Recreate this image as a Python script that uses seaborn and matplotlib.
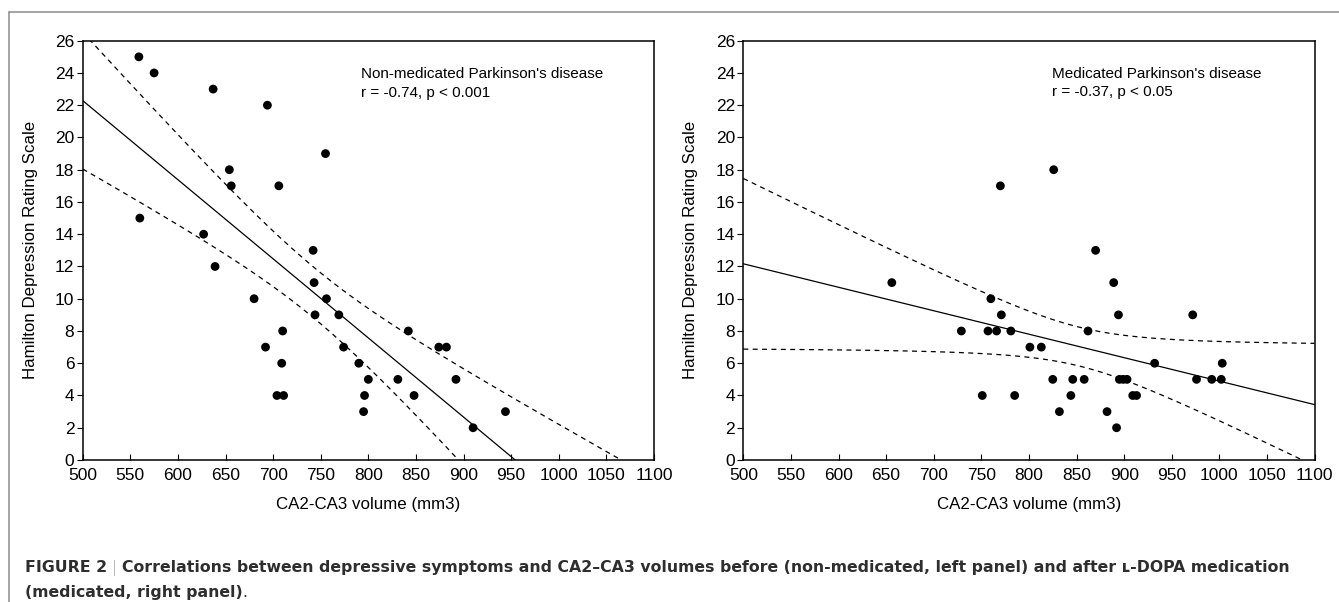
import numpy as np
import pandas as pd
import seaborn as sns
import matplotlib.pyplot as plt
from matplotlib.lines import Line2D

# non-medicated PD (left panel)
vol_nonmed = [559, 575, 637, 694, 755, 654, 656, 706, 560, 627, 742, 639, 743, 680, 756,
              744, 769, 710, 842, 692, 774, 874, 882, 709, 790, 800, 831, 892, 704, 711,
              796, 848, 795, 944, 910]
ham_nonmed = [25, 24, 23, 22, 19, 18, 17, 17, 15, 14, 13, 12, 11, 10, 10,
              9, 9, 8, 8, 7, 7, 7, 7, 6, 6, 5, 5, 5, 4, 4,
              4, 4, 3, 3, 2]

# medicated PD (right panel)
vol_med = [656, 729, 751, 757, 760, 766, 770, 771, 781, 785, 801, 813, 825, 826, 832,
           844, 846, 858, 862, 870, 882, 889, 892, 894, 895, 899, 903, 909, 913, 932,
           972, 976, 992, 1002, 1003]
ham_med = [11, 8, 4, 8, 10, 8, 17, 9, 8, 4, 7, 7, 5, 18, 3,
           4, 5, 5, 8, 13, 3, 11, 2, 9, 5, 5, 5, 4, 4, 6,
           9, 5, 5, 5, 6]

titles = ["Non-medicated Parkinson's disease", "Medicated Parkinson's disease"]
stats = ["r = -0.74, p < 0.001", "r = -0.37, p < 0.05"]
x_ticks = list(range(500, 1101, 50))
y_ticks = list(range(0, 27, 2))

sns.set_style('ticks')
plt.rcParams['font.family'] = ['Liberation Sans', 'DejaVu Sans']
plt.rcParams.update({'text.color': 'black', 'axes.labelcolor': 'black',
                     'xtick.color': 'black', 'ytick.color': 'black'})

W, H = 1339, 602
fig = plt.figure(figsize=(W / 100, H / 100), dpi=100)
ax_l = fig.add_axes([82.7 / W, 1 - 460 / H, 571.3 / W, 419.3 / H])
ax_r = fig.add_axes([743.3 / W, 1 - 460 / H, 571.3 / W, 419.3 / H])

T_CRIT = 2.0345  # t(0.975, df=33)


def fit_band(x, y, grid):
    x = np.asarray(x, float)
    y = np.asarray(y, float)
    slope, icpt = np.polyfit(x, y, 1)
    resid = y - (icpt + slope * x)
    n = len(x)
    s = np.sqrt(np.sum(resid ** 2) / (n - 2))
    se = s * np.sqrt(1 / n + (grid - x.mean()) ** 2 / np.sum((x - x.mean()) ** 2))
    fit = icpt + slope * grid
    return fit, fit - T_CRIT * se, fit + T_CRIT * se


def draw_panel(ax, vol, ham):
    df = pd.DataFrame({'vol': vol, 'ham': ham})
    grid = np.linspace(500, 1100, 400)
    fit, lo, hi = fit_band(vol, ham, grid)
    sns.lineplot(x=grid, y=fit, ax=ax, color='black', lw=0.9)
    for band in (lo, hi):
        sns.lineplot(x=grid, y=band, ax=ax, color='black', lw=0.9, linestyle=(0, (4, 3.5)))
    sns.scatterplot(data=df, x='vol', y='ham', ax=ax, color='black', s=40,
                    edgecolor='none', zorder=3)

    ax.set_xlim(500, 1100)
    ax.set_ylim(0, 26)
    ax.set_xticks(x_ticks)
    ax.set_yticks(y_ticks)
    for sp in ax.spines.values():
        sp.set_visible(True)
        sp.set_color('black')
        sp.set_linewidth(1.1)
    ax.tick_params(axis='x', direction='in', length=4, width=0.8, pad=6, labelsize=12.5)
    ax.tick_params(axis='y', direction='out', length=4, width=0.8, pad=2, labelsize=12.5)
    ax.set_xlabel('CA2-CA3 volume (mm3)', fontsize=12.2)
    ax.set_ylabel('Hamilton Depression Rating Scale', fontsize=12.2)
    ax.xaxis.set_label_coords(0.5, -0.088)
    ax.yaxis.set_label_coords(-0.079, 0.5)
    return ax


draw_panel(ax_l, vol_nonmed, ham_nonmed)
draw_panel(ax_r, vol_med, ham_med)

ax_l.text(0.487, 0.910, titles[0], transform=ax_l.transAxes, fontsize=11, va='baseline')
ax_l.text(0.487, 0.866, stats[0], transform=ax_l.transAxes, fontsize=11, va='baseline')
ax_r.text(0.540, 0.912, titles[1], transform=ax_r.transAxes, fontsize=11, va='baseline')
ax_r.text(0.540, 0.868, stats[1], transform=ax_r.transAxes, fontsize=11, va='baseline')

# gray frame around the figure area
fig.add_artist(Line2D([9 / W, 1], [1 - 12 / H, 1 - 12 / H], color='#8c8c8c', lw=1.1))
fig.add_artist(Line2D([9 / W, 9 / W], [0, 1 - 12 / H], color='#8c8c8c', lw=1.1))

# caption, drawn piece by piece
renderer = fig.canvas.get_renderer()
cap_col = '#2e2e2e'


def piece(x_px, y_px, s, color=cap_col, **kw):
    t = fig.text(x_px / W, 1 - y_px / H, s, va='baseline', fontsize=11.3, color=color,
                 family=['DejaVu Sans'], **kw)
    return t.get_window_extent(renderer=renderer).x1


x = piece(25, 572, 'FIGURE 2', fontweight='bold')
x = piece(x + 5, 572, '|', color='#a0a0a0', fontweight='light')
piece(x + 5, 572, 'Correlations between depressive symptoms and CA2\u2013CA3 volumes before '
      '(non-medicated, left panel) and after \u029f-DOPA medication', fontweight='bold')
x = piece(25, 597, '(medicated, right panel)', fontweight='bold')
piece(x, 597, '.')

fig.savefig('out.png', dpi=100)
